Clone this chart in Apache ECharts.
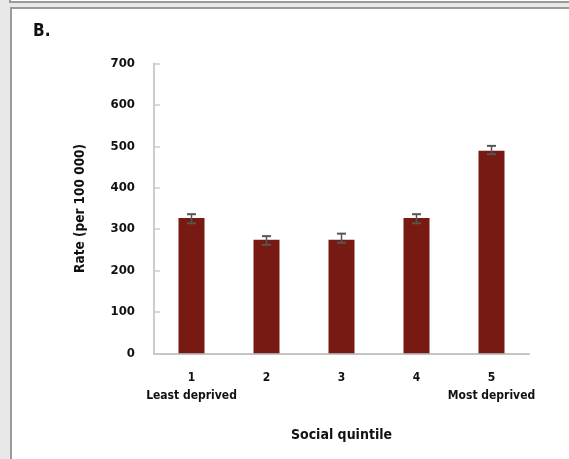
<!DOCTYPE html>
<html><head><meta charset="utf-8">
<script src="https://cdn.jsdelivr.net/npm/echarts@6/dist/echarts.min.js"></script>
<style>html,body{margin:0;padding:0;background:#e8e8e8;}#c{width:569px;height:459px;}</style>
</head><body><div id="c"></div>
<script>
var categories = ['1\nLeast deprived', '2', '3', '4', '5\nMost deprived'];
var rates = [327, 274, 274, 327, 489];
var errLow = [314, 262, 267, 314, 481];
var errHigh = [336, 283, 289, 336, 501];
var yTicks = [0, 100, 200, 300, 400, 500, 600, 700];

var FONT = '"DejaVu Sans Condensed", "Liberation Sans Narrow", sans-serif';
var chart = echarts.init(document.getElementById('c'), null, {renderer: 'canvas'});
chart.setOption({
  animation: false,
  backgroundColor: '#e8e8e8',
  graphic: [
    {type: 'rect', z: -10, shape: {x: 10, y: -20, width: 600, height: 22}, style: {fill: '#ffffff', stroke: '#9a9a9a', lineWidth: 2}},
    {type: 'rect', z: -10, shape: {x: 11, y: 8, width: 600, height: 500}, style: {fill: '#ffffff', stroke: '#9a9a9a', lineWidth: 2}},
    {type: 'text', left: 33, top: 23, style: {text: 'B.', font: 'bold 17px ' + FONT, fill: '#111'}}
  ],
  grid: {left: 154, right: 40, top: 63.5, bottom: 105.7, containLabel: false},
  xAxis: {
    type: 'category',
    data: categories,
    name: 'Social quintile',
    nameLocation: 'middle',
    nameGap: 75,
    nameTextStyle: {fontFamily: FONT, fontWeight: 'bold', fontSize: 14, color: '#111'},
    axisLine: {lineStyle: {color: '#c4c4c4', width: 2}},
    axisTick: {show: false},
    axisLabel: {fontFamily: FONT, fontWeight: 'bold', fontSize: 12, color: '#111', margin: 16, lineHeight: 18, interval: 0}
  },
  yAxis: {
    type: 'value',
    min: 0, max: 700, interval: 100,
    name: 'Rate (per 100 000)',
    nameLocation: 'middle',
    nameGap: 67,
    nameRotate: 90,
    nameTextStyle: {fontFamily: FONT, fontWeight: 'bold', fontSize: 13.5, color: '#111'},
    axisLine: {show: true, lineStyle: {color: '#cccccc', width: 2}},
    axisTick: {show: true, inside: true, length: 6, lineStyle: {color: '#cccccc', width: 1.5}},
    splitLine: {show: false},
    axisLabel: {fontFamily: FONT, fontWeight: 'bold', fontSize: 13, color: '#111', margin: 19,
      formatter: function (v) { return yTicks.indexOf(v) >= 0 ? String(v) : ''; }}
  },
  series: [
    {
      type: 'bar',
      data: rates,
      barWidth: 26,
      itemStyle: {color: '#781a14'}
    },
    {
      type: 'custom',
      z: 10,
      data: categories.map(function (c, i) { return [i, errLow[i], errHigh[i]]; }),
      renderItem: function (params, api) {
        var lo = api.coord([api.value(0), api.value(1)]);
        var hi = api.coord([api.value(0), api.value(2)]);
        var hw = 4.5;
        var st = {stroke: '#555555', lineWidth: 1.5};
        return {type: 'group', children: [
          {type: 'line', shape: {x1: hi[0], y1: hi[1], x2: lo[0], y2: lo[1]}, style: st},
          {type: 'line', shape: {x1: hi[0] - hw, y1: hi[1], x2: hi[0] + hw, y2: hi[1]}, style: {stroke: '#555555', lineWidth: 2}},
          {type: 'line', shape: {x1: lo[0] - hw, y1: lo[1], x2: lo[0] + hw, y2: lo[1]}, style: {stroke: '#555555', lineWidth: 2}}
        ]};
      }
    }
  ]
});
</script></body></html>
